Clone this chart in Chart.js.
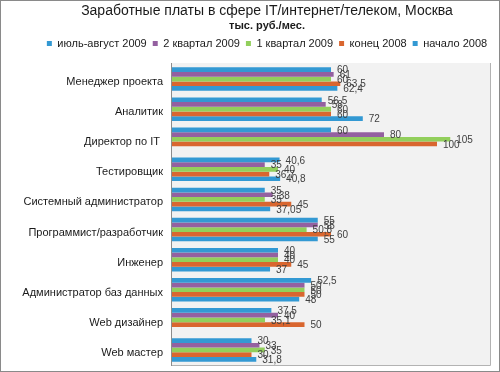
<!DOCTYPE html>
<html>
<head>
<meta charset="utf-8">
<script src="https://cdn.jsdelivr.net/npm/chart.js@4/dist/chart.umd.min.js"></script>
<style>
  html, body { margin: 0; padding: 0; background: #fff; }
  #wrap { width: 500px; height: 372px; }
</style>
</head>
<body>
<div id="wrap"><canvas id="salaryChart" width="500" height="372"></canvas></div>
<script>
const categories = [
    "Менеджер проекта", "Аналитик", "Директор по IT ", "Тестировщик",
    "Системный администратор", "Программист/разработчик", "Инженер",
    "Администратор баз данных", "Web дизайнер", "Web мастер"
];
const seriesNames = ["июль-август 2009", "2 квартал 2009", "1 квартал 2009", "конец 2008", "начало 2008"];
const seriesColors = ["#3399d3", "#9460a0", "#92cf5c", "#d9662f", "#3399d3"];

const julAug2009 = [60, 56.5, 60, 40.6, 35, 55, 40, 52.5, 37.5, 30];
const q2_2009 = [61, 58, 80, 35, 38, 55, 40, 50, 40, 33];
const q1_2009 = [60, 60, 105, 40, 35, 50.8, 40, 50, 35.1, 35];
const end2008 = [63.5, 60, 100, 36.7, 45, 60, 45, 50, 50, 30];
const start2008 = [62.4, 72, null, 40.8, 37.05, 55, 37, 48, null, 31.8];

const FONT = '"Liberation Sans", Arial, sans-serif';

// grey plot area, frame lines and outer border
const frame = {
    id: "frame",
    beforeDraw(chart) {
        const { ctx, chartArea: a } = chart;
        ctx.save();
        ctx.fillStyle = "#fff";
        ctx.fillRect(0, 0, chart.width, chart.height);
        ctx.fillStyle = "#f2f2f2";
        ctx.fillRect(a.left, a.top - 1, a.right - a.left, a.bottom - a.top + 1);
        ctx.restore();
    },
    afterDraw(chart) {
        const { ctx, chartArea: a } = chart;
        ctx.save();
        ctx.lineWidth = 1;
        ctx.strokeStyle = "#b3b3b3";
        ctx.beginPath();
        ctx.moveTo(a.right + 0.5, a.top - 1);
        ctx.lineTo(a.right + 0.5, a.bottom + 0.5);
        ctx.lineTo(a.left, a.bottom + 0.5);
        ctx.stroke();
        ctx.strokeStyle = "#8c8c8c";
        ctx.beginPath();
        ctx.moveTo(a.left - 0.5, a.top - 1);
        ctx.lineTo(a.left - 0.5, a.bottom + 1);
        ctx.stroke();
        ctx.strokeStyle = "#8a8a8a";
        ctx.strokeRect(0.5, 0.5, chart.width - 1, chart.height - 1);
        ctx.restore();
    }
};

// value labels at bar ends, decimal comma
const barLabels = {
    id: "barLabels",
    afterDatasetsDraw(chart) {
        const ctx = chart.ctx;
        ctx.save();
        ctx.font = "10px " + FONT;
        ctx.fillStyle = "#404040";
        ctx.textBaseline = "middle";
        chart.data.datasets.forEach((ds, i) => {
            chart.getDatasetMeta(i).data.forEach((bar, j) => {
                const v = ds.data[j];
                if (v === null) return;
                ctx.fillText(String(v).replace(".", ","), bar.x + 6, bar.y + 1);
            });
        });
        ctx.restore();
    }
};

const seriesData = [julAug2009, q2_2009, q1_2009, end2008, start2008];

new Chart(document.getElementById("salaryChart"), {
    type: "bar",
    data: {
        labels: categories,
        datasets: seriesNames.map((name, i) => ({
            label: name,
            data: seriesData[i],
            backgroundColor: seriesColors[i],
            borderWidth: 0,
            categoryPercentage: 0.78,
            barPercentage: 1.0
        }))
    },
    options: {
        indexAxis: "y",
        responsive: false,
        animation: false,
        // negative right padding moves the centre of title/legend to the right,
        // the empty right axis brings the plot edge back to x=490
        layout: { padding: { top: 0, right: -34, bottom: 7, left: 0 } },
        plugins: {
            title: {
                display: true,
                text: "Заработные платы в сфере IT/интернет/телеком, Москва",
                color: "#1a1a1a",
                font: { family: FONT, size: 14, weight: "normal" },
                padding: { top: 3, bottom: 0 }
            },
            subtitle: {
                display: true,
                text: "тыс. руб./мес.",
                color: "#1a1a1a",
                font: { family: FONT, size: 11, weight: "bold" },
                padding: { top: 0, bottom: -1 }
            },
            legend: {
                position: "top",
                labels: {
                    boxWidth: 5,
                    boxHeight: 5,
                    padding: 6,
                    color: "#1a1a1a",
                    font: { family: FONT, size: 11 }
                }
            },
            tooltip: { enabled: false }
        },
        scales: {
            x: {
                position: "top",
                min: 0,
                max: 120,
                ticks: { display: false },
                grid: { display: false },
                border: { display: false },
                afterFit: s => { s.height = 5; }
            },
            y: {
                ticks: {
                    color: "#1a1a1a",
                    font: { family: FONT, size: 11 },
                    padding: 9,
                    labelOffset: 3
                },
                grid: { display: false, drawTicks: false },
                border: { display: false },
                afterFit: s => {
                    s.width = 172;
                    s.paddingTop = 0;
                    s.paddingBottom = 0;
                }
            },
            yRight: {
                type: "category",
                position: "right",
                ticks: { display: false },
                grid: { display: false },
                border: { display: false },
                afterFit: s => {
                    s.width = 44;
                    s.paddingTop = 0;
                    s.paddingBottom = 0;
                }
            }
        }
    },
    plugins: [frame, barLabels]
});
</script>
</body>
</html>
